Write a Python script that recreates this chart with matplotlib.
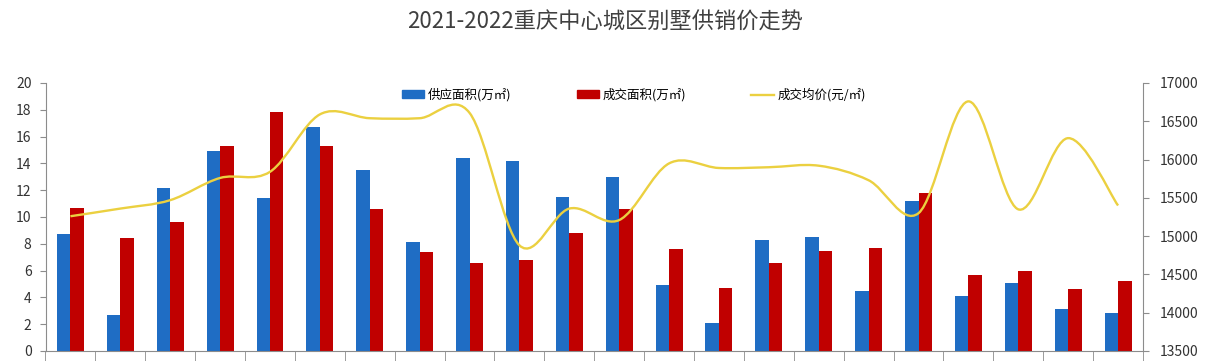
import numpy as np
import matplotlib
matplotlib.use('Agg')
import matplotlib.pyplot as plt
from matplotlib.path import Path
from matplotlib.patches import PathPatch
from matplotlib.lines import Line2D
from matplotlib.patches import Patch

plt.rcParams['font.family'] = ['Noto Sans CJK SC', 'DejaVu Sans']

# supply / deal area (万㎡) and average price (元/㎡), 22 periods
supply = [8.7, 2.7, 12.2, 14.9, 11.4, 16.7, 13.5, 8.1, 14.4, 14.2, 11.5,
          13.0, 4.9, 2.1, 8.3, 8.5, 4.5, 11.2, 4.1, 5.1, 3.1, 2.8]
deal = [10.7, 8.4, 9.6, 15.3, 17.8, 15.3, 10.6, 7.4, 6.6, 6.8, 8.8,
        10.6, 7.6, 4.7, 6.6, 7.5, 7.7, 11.8, 5.7, 6.0, 4.6, 5.2]
price = [15260, 15360, 15470, 15760, 15840, 16590, 16540, 16540, 16610, 14880, 15360,
         15210, 15950, 15890, 15900, 15920, 15730, 15300, 16760, 15350, 16280, 15400]

labels = ['供应面积(万㎡)', '成交面积(万㎡)', '成交均价(元/㎡)']
blue = '#1f6dc4'
red = '#c00000'
yellow = '#ebd040'
grey = '#8c8c8c'

n = len(supply)
x = np.arange(n)
w = 0.27

fig = plt.figure(figsize=(12.1, 3.61), dpi=100)
ax1 = fig.add_axes([45.5 / 1210, 10 / 361, (1143 - 45.5) / 1210, 268 / 361])
ax2 = ax1.twinx()

ax1.bar(x - w / 2, supply, w, color=blue, zorder=2)
ax1.bar(x + w / 2, deal, w, color=red, zorder=2)

# smooth line through the price points (catmull-rom -> cubic bezier)
pts = np.column_stack([x, price]).astype(float)
ext = np.vstack([pts[0], pts, pts[-1]])
verts = [tuple(pts[0])]
codes = [Path.MOVETO]
for i in range(n - 1):
    p0, p1, p2, p3 = ext[i], ext[i + 1], ext[i + 2], ext[i + 3]
    c1 = p1 + (p2 - p0) / 6
    c2 = p2 - (p3 - p1) / 6
    verts += [tuple(c1), tuple(c2), tuple(p2)]
    codes += [Path.CURVE4] * 3
ax2.add_patch(PathPatch(Path(verts, codes), facecolor='none', edgecolor=yellow, lw=1.7, zorder=3))

ax1.set_xlim(-0.5, n - 0.5)
ax1.set_ylim(0, 20)
ax1.set_yticks(range(0, 21, 2))
ax2.set_ylim(13500, 17000)
ax2.set_yticks(range(13500, 17001, 500))

ax1.set_xticks([])
ax1.set_xticks(np.arange(-0.5, n, 1), minor=True)
ax1.tick_params(axis='x', which='minor', length=10, color=grey, labelbottom=False)

for ax in (ax1, ax2):
    ax.spines['top'].set_visible(False)
    for s in ('left', 'right', 'bottom'):
        ax.spines[s].set_color(grey)
ax1.spines['right'].set_visible(False)
ax2.spines['left'].set_visible(False)
ax2.spines['bottom'].set_visible(False)

ax1.tick_params(axis='y', length=4, color=grey, labelsize=10, labelcolor='#333333', pad=6)
ax2.tick_params(axis='y', length=4, color=grey, labelsize=10, labelcolor='#333333', pad=8)

fig.text(0.5, 0.94, '2021-2022重庆中心城区别墅供销价走势', ha='center', va='center',
         fontsize=16, color='#404040')

handles = [Patch(color=blue), Patch(color=red), Line2D([], [], color=yellow, lw=1.7)]
fig.legend(handles, labels, loc='center', bbox_to_anchor=(0.524, 0.737), ncol=3,
           frameon=False, fontsize=9, handlelength=1.8, handleheight=0.6,
           columnspacing=5.2, handletextpad=0.3)

plt.savefig('out.png', dpi=100)
